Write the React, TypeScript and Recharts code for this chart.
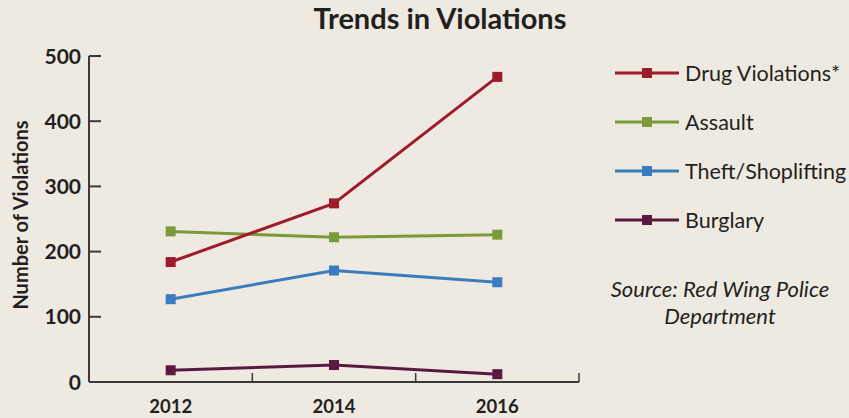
import { LineChart, Line, XAxis, YAxis, Legend } from "recharts";

const years = ["2012", "2014", "2016"];
const drugViolations = [184, 274, 468];
const assault = [231, 222, 226];
const theftShoplifting = [127, 171, 153];
const burglary = [18, 26, 12];
const yTicks = [0, 100, 200, 300, 400, 500];
const sourceLines = ["Source: Red Wing Police", "Department"];

const FONT = "Lato, 'Open Sans', sans-serif";
const INK = "#231f20";
const BG = "#eeeae1";

// legend order (top to bottom)
const SERIES = [
  { key: "drug", name: "Drug Violations*", color: "#9e1b2b", values: drugViolations },
  { key: "assault", name: "Assault", color: "#7b9a39", values: assault },
  { key: "theft", name: "Theft/Shoplifting", color: "#3a7cbf", values: theftShoplifting },
  { key: "burglary", name: "Burglary", color: "#5a1a40", values: burglary },
];

const data = years.map((year, i) => {
  const row: Record<string, string | number> = { year };
  SERIES.forEach(s => { row[s.key] = s.values[i]; });
  return row;
});

const W = 849;
const H = 418;
const PLOT_LEFT = 89;
const PLOT_RIGHT = 579;
const BAND = (PLOT_RIGHT - PLOT_LEFT) / years.length;

function YTick(props: any) {
  const { x, y, payload } = props;
  const axisX = x + 8;
  return (
    <g>
      <line x1={axisX} x2={axisX + 12} y1={y} y2={y} stroke="#3a3a3a" strokeWidth={2} />
      <text x={x} y={y} dy="0.36em" textAnchor="end" fill={INK} fontFamily={FONT} fontWeight={700} fontSize={21}>
        {payload.value}
      </text>
    </g>
  );
}

function XTick(props: any) {
  const { x, y, payload } = props;
  const edge = x + BAND / 2;
  return (
    <g>
      <line x1={edge} x2={edge} y1={y} y2={y - 9} stroke="#3a3a3a" strokeWidth={1.5} />
      <text x={x} y={y + 24} dy="0.36em" textAnchor="middle" fill={INK} fontFamily={FONT} fontWeight={700} fontSize={18.5}>
        {payload.value}
      </text>
    </g>
  );
}

function squareDot(color: string) {
  return (props: any) => {
    const { cx, cy, index } = props;
    return <rect key={index} x={cx - 5} y={cy - 5} width={10} height={10} fill={color} />;
  };
}

function LegendBox() {
  return (
    <div style={{ fontFamily: FONT }}>
      {SERIES.map(s => (
        <div key={s.key} style={{ display: "flex", alignItems: "center", height: 49 }}>
          <svg width={66} height={12} style={{ display: "block" }}>
            <line x1={1} x2={65} y1={6} y2={6} stroke={s.color} strokeWidth={3} />
            <rect x={28} y={1} width={10} height={10} fill={s.color} />
          </svg>
          <span style={{ marginLeft: 5, fontSize: 21.5, color: INK, whiteSpace: "nowrap" }}>{s.name}</span>
        </div>
      ))}
    </div>
  );
}

export default function App() {
  return (
    <div style={{ position: "absolute", left: 0, top: 0, width: W, height: H, background: BG, overflow: "hidden" }}>
      <div
        style={{
          position: "absolute", left: 0, top: 0, width: 880, textAlign: "center",
          fontFamily: FONT, fontWeight: 700, fontSize: 29, lineHeight: "36px", color: INK,
        }}
      >
        Trends in Violations
      </div>
      <div
        style={{
          position: "absolute", left: 20, top: 215, transform: "translate(-50%, -50%) rotate(-90deg)",
          fontFamily: FONT, fontWeight: 700, fontSize: 20, color: INK, whiteSpace: "nowrap",
        }}
      >
        Number of Violations
      </div>
      {sourceLines.map((line, i) => (
        <div
          key={line}
          style={{
            position: "absolute", left: 590, top: 275 + i * 27, width: 260, textAlign: "center",
            fontFamily: FONT, fontStyle: "italic", fontSize: 22, lineHeight: "27px", height: 27, color: INK,
          }}
        >
          {line}
        </div>
      ))}
      <LineChart width={W} height={H} data={data} margin={{ top: 56, right: W - PLOT_RIGHT, bottom: 0, left: 0 }}>
        <XAxis
          dataKey="year"
          scale="band"
          height={36}
          tickLine={false}
          tickSize={0}
          tickMargin={0}
          tick={<XTick />}
          axisLine={{ stroke: "#3a3a3a", strokeWidth: 2 }}
        />
        <YAxis
          domain={[0, 500]}
          ticks={yTicks}
          width={PLOT_LEFT}
          tickLine={false}
          tickSize={0}
          tickMargin={8}
          tick={<YTick />}
          axisLine={{ stroke: "#3a3a3a", strokeWidth: 2 }}
        />
        <Legend
          layout="vertical"
          align="center"
          verticalAlign="middle"
          content={<LegendBox />}
          wrapperStyle={{ position: "absolute", left: 614, top: 48, width: 240 }}
        />
        {[...SERIES].reverse().map(s => (
          <Line
            key={s.key}
            dataKey={s.key}
            name={s.name}
            stroke={s.color}
            strokeWidth={3}
            dot={squareDot(s.color)}
            activeDot={false}
            isAnimationActive={false}
          />
        ))}
      </LineChart>
    </div>
  );
}
